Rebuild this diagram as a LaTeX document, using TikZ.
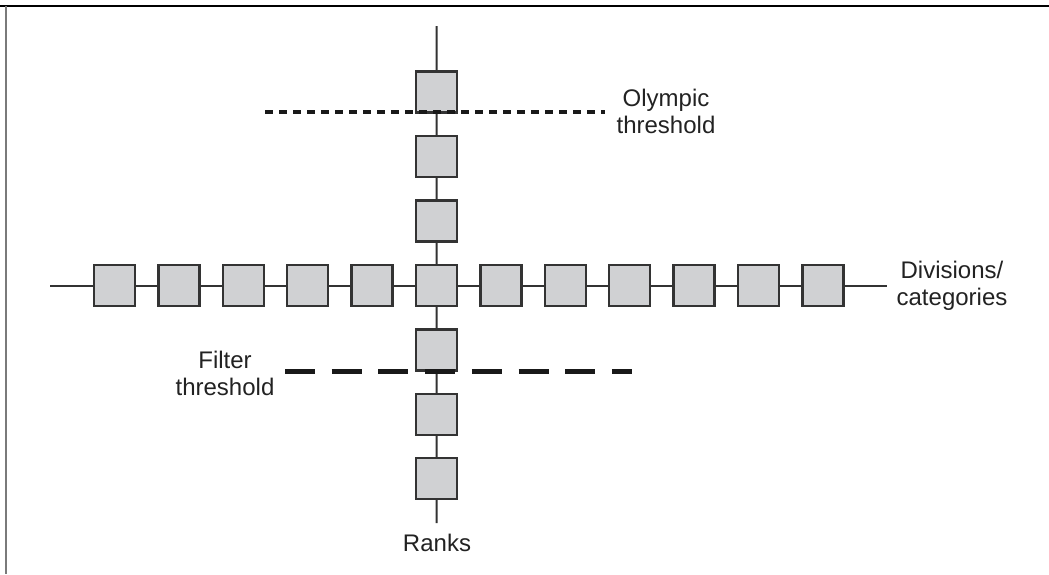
\documentclass[tikz,border=0pt]{standalone}
\usepackage{fontspec}
\setmainfont{Liberation Sans}
\definecolor{ink}{HTML}{333333}
\definecolor{textink}{HTML}{222222}
\definecolor{boxfill}{HTML}{D0D1D3}
\definecolor{framegray}{HTML}{7A7A7A}
\begin{document}
\begin{tikzpicture}[x=1pt,y=-1pt,
  cell/.style={draw=ink, line width=2.4pt, fill=boxfill, minimum size=41pt, inner sep=0pt},
  axis/.style={draw=ink, line width=2pt},
  olympic/.style={draw=black!90, line width=4.8pt, dash pattern=on 8pt off 6pt},
  filter/.style={draw=black!90, line width=5pt, dash pattern=on 30pt off 16.7pt},
  lbl/.style={text=textink, font=\fontsize{24}{27}\selectfont, align=center, inner sep=0pt}]
\useasboundingbox (0,0) rectangle (1049,574);

% page frame: top rule and left rule
\draw[black, line width=1.5pt] (0,6) -- (1049,6);
\draw[framegray, line width=2pt] (6,6) -- (6,574);

% horizontal row of divisions
\foreach \k in {0,...,11}
  \node[cell] (h\k) at ({114.5+64.4*\k},285.5) {};
% vertical column of ranks (h5 is the shared centre cell)
\node[cell] (v0) at (436.5,92) {};
\node[cell] (v1) at (436.5,156.5) {};
\node[cell] (v2) at (436.5,221) {};
\node[cell] (v4) at (436.5,350) {};
\node[cell] (v5) at (436.5,414.5) {};
\node[cell] (v6) at (436.5,478.5) {};

% axis ends
\coordinate (hl) at (50,285.5);
\coordinate (hr) at (887,285.5);
\coordinate (vt) at (436.5,26);
\coordinate (vb) at (436.5,523);

% connectors
\draw[axis] (hl) -- (h0);
\foreach \k [evaluate=\k as \n using int(\k+1)] in {0,...,10}
  \draw[axis] (h\k) -- (h\n);
\draw[axis] (h11) -- (hr);
\draw[axis] (vt) -- (v0) -- (v1) -- (v2) -- (h5) -- (v4) -- (v5) -- (v6) -- (vb);

% thresholds
\coordinate (oa) at (265,112);
\coordinate (ob) at (605,112);
\draw[olympic] (oa) -- (ob);
\coordinate (fa) at (285,371);
\coordinate (fb) at (632,371);
\draw[filter] (fa) -- (fb);

% labels (base = baseline of the last line)
\node[lbl, anchor=base] (tolympic) at (666,133) {Olympic\\threshold};
\node[lbl, anchor=base] (tdiv) at (952,305) {Divisions/\\categories};
\node[lbl, anchor=base] (tfilter) at (225,395) {Filter\\threshold};
\node[lbl, anchor=base] (tranks) at (437,551) {Ranks};
\end{tikzpicture}
\end{document}
